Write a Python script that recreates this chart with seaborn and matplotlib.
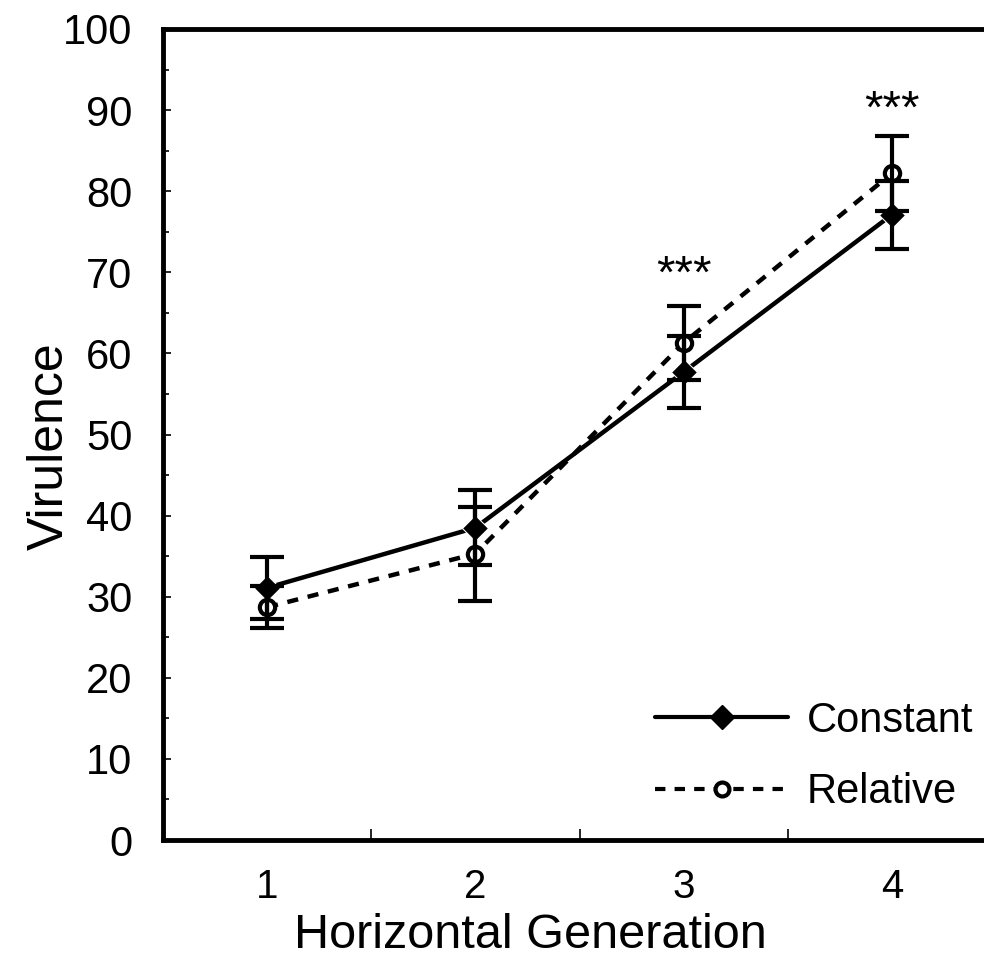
import seaborn as sns
import pandas as pd
import numpy as np
import matplotlib.pyplot as plt

generations = [1, 2, 3, 4]
constant = [31.1, 38.5, 57.7, 77.1]
constant_err = [3.8, 4.6, 4.4, 4.2]
relative = [28.7, 35.3, 61.3, 82.2]
relative_err = [2.6, 5.8, 4.6, 4.6]
star_labels = ["", "", "***", "***"]
star_y = [0, 0, 69.6, 89.9]

df = pd.DataFrame({
    "gen": generations * 2,
    "virulence": constant + relative,
    "group": ["Constant"] * 4 + ["Relative"] * 4,
})

sns.set_theme(style="white")
plt.rcParams["font.family"] = ["Liberation Sans", "DejaVu Sans"]
plt.rcParams["text.color"] = "black"
plt.rcParams["axes.labelcolor"] = "black"
plt.rcParams["xtick.color"] = "black"
plt.rcParams["ytick.color"] = "black"

fig = plt.figure(figsize=(9.84, 9.68), dpi=100)
ax = fig.add_axes([163 / 984, 1 - 840 / 968, (996 - 163) / 984, (840 - 29) / 968])

sns.lineplot(data=df, x="gen", y="virulence", style="group", markers={"Constant": "D", "Relative": "o"},
             dashes={"Constant": "", "Relative": (2.5, 2.2)}, color="black", linewidth=3.2,
             markersize=13, ax=ax, legend=False)

# open marker for Relative
for line in ax.lines[1:2]:
    line.set_markerfacecolor("white")
    line.set_markeredgecolor("black")
    line.set_markeredgewidth(3)
    line.set_markersize(11)

ax.errorbar(generations, constant, yerr=constant_err, fmt="none", ecolor="black",
            elinewidth=3, capsize=12, capthick=3)
ax.errorbar(generations, relative, yerr=relative_err, fmt="none", ecolor="black",
            elinewidth=3, capsize=12, capthick=3)

for g, s, y in zip(generations, star_labels, star_y):
    if s:
        ax.text(g, y, s, ha="center", va="center", fontsize=34, color="black")

ax.set_xlim(0.5, 4.5)
ax.set_ylim(0, 100)
ax.set_yticks(np.arange(0, 101, 10))
ax.set_yticks(np.arange(5, 100, 10), minor=True)
ax.set_xticks(generations)
ax.set_xticklabels([str(g) for g in generations])
ax.set_xticks([1.5, 2.5, 3.5], minor=True)
ax.tick_params(axis="x", which="major", length=0, pad=20, labelsize=29)
ax.tick_params(axis="x", which="minor", direction="in", length=8, width=1.2, bottom=True)
ax.tick_params(axis="y", which="both", direction="in", length=6, width=1.2, left=True, pad=22, labelsize=30)
ax.tick_params(axis="y", which="minor", length=4)

for side in ["left", "bottom", "top", "right"]:
    ax.spines[side].set_color("black")
    ax.spines[side].set_linewidth(3.5)

ax.set_xlabel("Horizontal Generation", fontsize=35)
ax.set_ylabel("Virulence", fontsize=36)
ax.xaxis.set_label_coords((530 - 163) / 833, -0.09)
ax.yaxis.set_label_coords(-0.108, 0.485)

h1, = ax.plot([], [], color="black", lw=3, marker="D", markersize=12)
h2, = ax.plot([], [], color="black", lw=3, ls=(0, (2.5, 2.2)), marker="o", markersize=10,
              markerfacecolor="white", markeredgewidth=3)
ax.legend([h1, h2], ["Constant", "Relative"], loc="lower right", bbox_to_anchor=(1.018, -0.012),
          frameon=False, fontsize=30, handlelength=3.2, handletextpad=0.45, labelspacing=0.75)

fig.savefig("out.png", dpi=100)
